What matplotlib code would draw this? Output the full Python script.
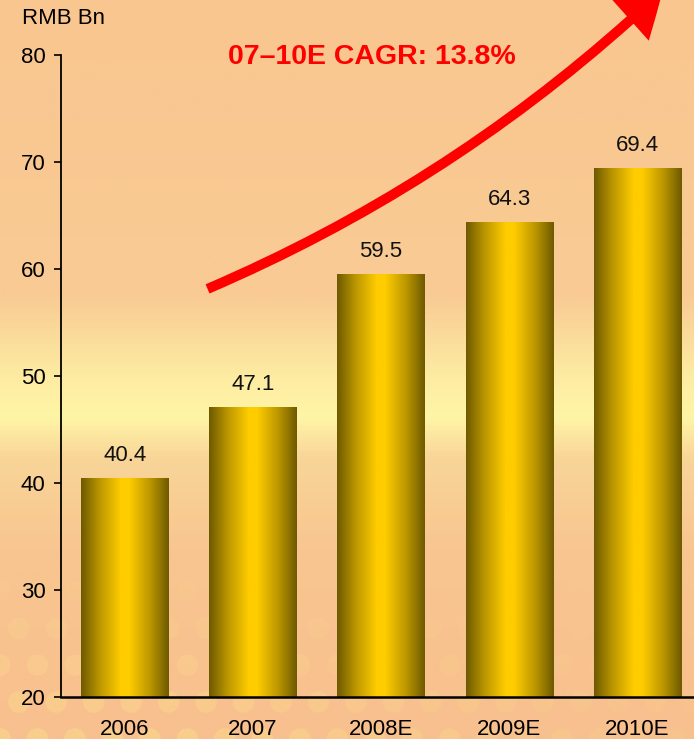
import numpy as np
import matplotlib
matplotlib.use("Agg")
import matplotlib.pyplot as plt
from matplotlib.colors import LinearSegmentedColormap
from matplotlib.patches import FancyArrowPatch

# data
years = ["2006", "2007", "2008E", "2009E", "2010E"]
values = [40.4, 47.1, 59.5, 64.3, 69.4]
unit_label = "RMB Bn"
cagr_label = "07\u201310E CAGR: 13.8%"

plt.rcParams["font.family"] = ["Liberation Sans", "DejaVu Sans"]

fig = plt.figure(figsize=(6.94, 7.39), dpi=100)

# background: peach with a pale yellow band
bg = fig.add_axes([0, 0, 1, 1], zorder=-1)
bg_cmap = LinearSegmentedColormap.from_list("bg", [
    (0.0, "#f9c690"),
    (0.40, "#f9cb94"),
    (0.51, "#fdeca2"),
    (0.565, "#fff5a6"),
    (0.62, "#f9d598"),
    (0.75, "#f8c590"),
    (1.0, "#f8c08e"),
])
grad = np.linspace(0, 1, 400).reshape(-1, 1)
bg.imshow(grad, cmap=bg_cmap, aspect="auto", extent=[0, 1, 0, 1], origin="upper")
# faint dot pattern in the lower part
gx, gy = np.meshgrid(np.arange(0.0, 1.05, 0.054), np.arange(0.0, 0.24, 0.05))
gx = gx + (np.arange(gx.shape[0]) % 2)[:, None] * 0.027
fade = np.clip(1 - gy / 0.24, 0, 1) * np.clip(1.2 - gx, 0, 1)
bg.scatter(gx.ravel(), gy.ravel(), s=240, c="#fde58a", alpha=0.4 * fade.ravel(),
           linewidths=0)
bg.set_xlim(0, 1)
bg.set_ylim(0, 1)
bg.axis("off")

ax = fig.add_axes([61 / 694, 42 / 739, 633 / 694, 642 / 739])
ax.set_facecolor("none")

x = np.arange(len(years))
bars = ax.bar(x, [v - 20 for v in values], bottom=20, width=0.68,
              color="none", edgecolor="none")

bar_cmap = LinearSegmentedColormap.from_list("bar", [
    (0.0, "#6e5a00"),
    (0.2, "#b89400"),
    (0.45, "#ffcc00"),
    (0.55, "#ffcc00"),
    (0.8, "#b89400"),
    (1.0, "#6e5a00"),
])
hgrad = np.linspace(0, 1, 200).reshape(1, -1)
for b, v in zip(bars, values):
    x0 = b.get_x()
    w = b.get_width()
    ax.imshow(hgrad, cmap=bar_cmap, aspect="auto",
              extent=[x0, x0 + w, 20, v], zorder=2)
    ax.annotate(f"{v:.1f}", (x0 + w / 2, v), xytext=(0, 9),
                textcoords="offset points", ha="center", va="bottom",
                fontsize=16, color="#111111")

ax.set_xlim(-0.5, 4.445)
ax.set_ylim(20, 80)
ax.set_yticks(range(20, 81, 10))
ax.set_xticks(x)
ax.set_xticklabels(years)
ax.tick_params(axis="y", length=5, width=1.2, labelsize=16, pad=6)
ax.tick_params(axis="x", length=0, labelsize=16, pad=16)
ax.spines["top"].set_visible(False)
ax.spines["right"].set_visible(False)
ax.spines["left"].set_linewidth(1.3)
ax.spines["bottom"].set_linewidth(1.8)

fig.text(22 / 694, 1 - 19 / 739, unit_label, fontsize=16, va="center", ha="left")
fig.text(372 / 694, 1 - 57 / 739, cagr_label, fontsize=20.5, fontweight="bold",
         color="#ff0000", ha="center", va="center")

# growth arrow
arrow = FancyArrowPatch((205 / 694, 1 - 290 / 739), (665 / 694, 1 + 12 / 739),
                        transform=fig.transFigure,
                        connectionstyle="arc3,rad=0.09",
                        arrowstyle="simple,head_length=0.8,head_width=1.0,tail_width=0.18",
                        mutation_scale=40, facecolor="#ff0000", edgecolor="none",
                        linewidth=0, zorder=5)
fig.add_artist(arrow)

fig.savefig("out.png", dpi=100)
